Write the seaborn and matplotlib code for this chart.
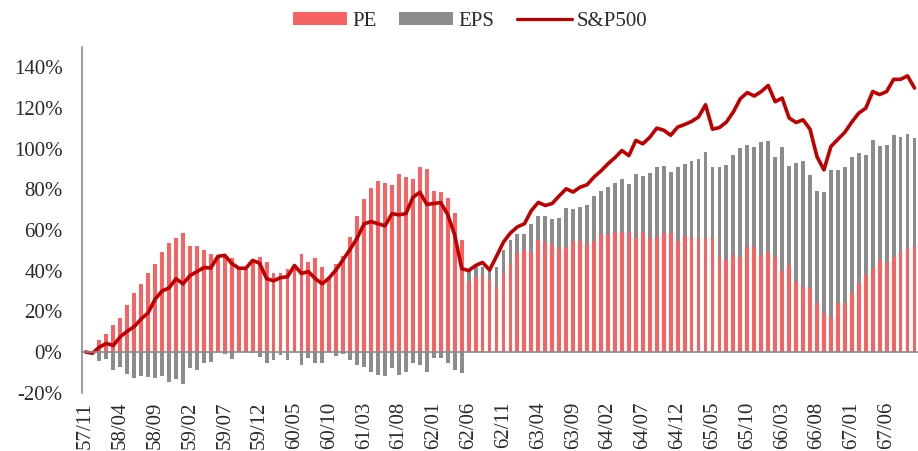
import numpy as np
import pandas as pd
import seaborn as sns
import matplotlib.pyplot as plt
from matplotlib.patches import Patch
from matplotlib.lines import Line2D
from matplotlib.ticker import FuncFormatter

# Monthly categories, 57/11 .. 67/10
months = pd.period_range("1957-11", periods=120, freq="M").strftime("%y/%m").tolist()

# PE contribution (%), red bars
pe = [0.0, 0.0, 5.7, 8.7, 13.3, 16.6, 23.1, 29.2, 33.3, 39.0,
      43.3, 49.0, 53.4, 55.9, 58.7, 52.3, 52.3, 50.2, 48.2, 45.0,
      47.7, 46.4, 41.5, 40.5, 45.0, 46.9, 44.1, 39.0, 38.7, 40.7,
      42.8, 48.0, 44.3, 46.0, 41.6, 36.5, 43.0, 47.0, 56.7, 66.6,
      75.0, 80.8, 83.8, 83.0, 82.0, 87.5, 85.9, 84.9, 90.7, 89.8,
      79.2, 78.5, 75.9, 68.5, 54.8, 35.0, 37.0, 38.0, 36.0, 32.0,
      39.0, 43.3, 48.7, 50.0, 49.3, 54.9, 54.2, 52.8, 50.4, 51.8,
      54.3, 54.5, 53.0, 54.6, 57.9, 57.5, 58.9, 58.9, 58.9, 55.9,
      59.2, 55.9, 56.7, 58.4, 58.7, 54.6, 57.0, 56.7, 55.9, 55.9,
      56.7, 46.9, 45.2, 47.7, 46.9, 51.5, 51.5, 47.7, 49.3, 46.9,
      40.0, 42.8, 34.6, 32.1, 31.3, 23.9, 19.0, 17.4, 23.9, 23.9,
      28.9, 33.8, 37.9, 41.1, 45.2, 44.4, 46.9, 49.3, 51.0, 52.0]

# EPS contribution (%), grey bars
eps = [0.0, -0.6, -4.3, -3.6, -9.0, -7.5, -10.7, -13.0, -11.6, -12.1,
       -12.6, -11.6, -14.8, -13.4, -15.9, -8.0, -9.0, -5.4, -4.9, 2.0,
       -1.0, -3.6, 0.0, 0.5, -0.5, -2.3, -5.6, -3.9, -1.5, -3.9,
       0.0, -6.4, -3.1, -5.6, -5.6, 0.0, -2.0, -1.0, -3.9, -6.4,
       -7.2, -9.7, -11.3, -11.8, -8.0, -11.3, -9.7, -5.6, -6.4, -9.7,
       -3.1, -3.1, -5.6, -8.9, -10.2, 5.0, 5.0, 4.0, 5.0, 10.0,
       11.0, 11.5, 9.5, 8.2, 13.6, 12.0, 12.8, 12.4, 15.4, 18.9,
       15.9, 16.6, 19.3, 22.1, 21.3, 23.8, 24.1, 26.2, 23.6, 31.6,
       27.4, 32.3, 34.1, 33.1, 30.0, 36.5, 35.3, 37.4, 39.0, 42.3,
       34.1, 43.8, 46.8, 48.9, 53.3, 50.3, 49.2, 55.3, 54.6, 49.1,
       60.7, 48.7, 58.2, 61.8, 55.7, 55.0, 59.4, 71.8, 65.3, 66.9,
       67.1, 63.9, 58.7, 63.2, 56.1, 57.4, 59.5, 56.6, 56.2, 53.0]

# S&P500 cumulative change (%), red line
sp500 = [0.0, -0.6, 2.4, 4.2, 3.2, 7.5, 10.2, 12.5, 16.2, 19.3,
         26.0, 30.0, 31.5, 36.0, 33.5, 37.5, 39.5, 41.5, 41.3, 47.0,
         47.5, 43.5, 41.2, 41.1, 45.0, 43.6, 36.0, 35.0, 36.5, 37.0,
         42.5, 38.6, 39.5, 36.0, 33.5, 36.5, 40.5, 45.5, 50.5, 56.0,
         63.0, 64.1, 63.0, 62.0, 68.0, 67.4, 68.0, 76.0, 78.5, 72.5,
         73.0, 73.4, 67.5, 57.5, 41.0, 40.0, 42.5, 44.0, 40.3, 47.0,
         54.0, 58.5, 61.5, 63.0, 69.5, 73.5, 72.0, 73.0, 76.7, 80.2,
         78.6, 81.0, 82.2, 86.0, 89.0, 92.5, 95.5, 99.0, 96.5, 104.0,
         102.3, 105.5, 110.0, 109.0, 106.5, 110.5, 111.8, 113.3, 115.5, 121.5,
         109.5, 110.3, 113.0, 118.0, 124.5, 127.5, 125.8, 128.0, 131.0, 123.0,
         124.8, 115.0, 112.8, 114.1, 109.5, 96.0, 89.5, 101.0, 104.5, 108.0,
         113.0, 117.4, 119.8, 128.0, 126.5, 128.0, 134.0, 134.0, 135.7, 129.7]

tick_labels = ["57/11", "58/04", "58/09", "59/02", "59/07", "59/12", "60/05", "60/10",
               "61/03", "61/08", "62/01", "62/06", "62/11", "63/04", "63/09", "64/02",
               "64/07", "64/12", "65/05", "65/10", "66/03", "66/08", "67/01", "67/06"]

red = "#F86262"
grey = "#8C8C8C"
line_red = "#C00000"
axis_grey = "#8A8A8A"
text_col = "#2A2A2A"

sns.set_style("white")
plt.rcParams["font.family"] = ["Liberation Serif", "DejaVu Serif"]

df = pd.DataFrame({"month": months, "PE": pe, "EPS": eps, "SP500": sp500})
df["pos"] = np.arange(len(df))
# grey bar sits on top of the red one when EPS > 0, hangs below zero otherwise
df["eps_bar"] = np.where(df["EPS"] > 0, df["PE"] + df["EPS"], df["EPS"])

fig = plt.figure(figsize=(9.18, 4.51), dpi=100)
ax = fig.add_axes([0.0893, 0.1293, 0.9107, 0.767])

sns.barplot(data=df, x="pos", y="eps_bar", color=grey, width=0.55, saturation=1,
            linewidth=0, errorbar=None, ax=ax)
sns.barplot(data=df, x="pos", y="PE", color=red, width=0.55, saturation=1,
            linewidth=0, errorbar=None, ax=ax)
sns.lineplot(data=df, x="pos", y="SP500", color=line_red, linewidth=2.6,
             solid_joinstyle="round", solid_capstyle="round", ax=ax)

ax.set_xlim(-0.24, 118.75)
ax.set_ylim(-20, 150)
ax.set_xlabel("")
ax.set_ylabel("")

# y axis
ax.set_yticks(range(-20, 141, 20))
ax.yaxis.set_major_formatter(FuncFormatter(lambda v, p: f"{v:.0f}%"))
ax.tick_params(axis="y", direction="in", length=4, width=1, color=axis_grey,
               pad=14, labelsize=15, labelcolor=text_col)

# x axis crosses at 0, labels stay at the bottom
ax.set_xticks(range(0, 120, 5))
ax.set_xticklabels(tick_labels)
ax.set_xticks(np.arange(-0.5, 120, 5), minor=True)
ax.tick_params(axis="x", which="major", length=0, pad=36, labelsize=15,
               labelcolor=text_col, labelrotation=90)
ax.tick_params(axis="x", which="minor", direction="in", length=5, width=1, color=axis_grey)
ax.spines["bottom"].set_position(("data", 0))

for side in ["top", "right"]:
    ax.spines[side].set_visible(False)
for side in ["left", "bottom"]:
    ax.spines[side].set_color(axis_grey)
    ax.spines[side].set_linewidth(1.2)

handles = [Patch(facecolor=red, edgecolor="none"),
           Patch(facecolor=grey, edgecolor="none"),
           Line2D([0], [0], color=line_red, linewidth=2.3)]
leg = fig.legend(handles, ["PE", "EPS", "S&P500"], loc="center", bbox_to_anchor=(0.512, 0.952),
                 ncol=3, frameon=False, fontsize=15, handlelength=2.6, handleheight=0.6,
                 handletextpad=0.25, columnspacing=1.1)
for t in leg.get_texts():
    t.set_color(text_col)

fig.savefig("out.png", dpi=100)
